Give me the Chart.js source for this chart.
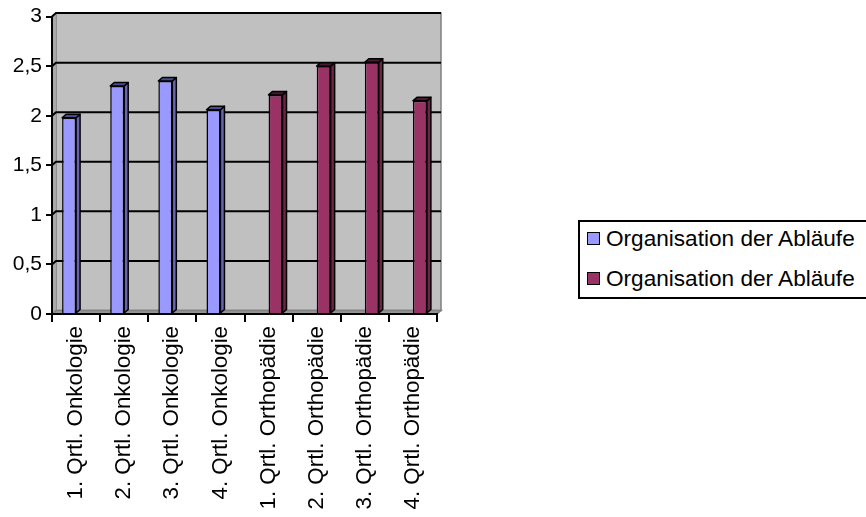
<!DOCTYPE html>
<html lang="de"><head>
  <meta charset="UTF-8">
  <title>Organisation der Abläufe</title>
  <script src="https://cdn.jsdelivr.net/npm/chart.js"></script>
  <style>
    html, body { margin: 0; padding: 0; background: #fff; overflow: hidden; }
    #wrap { position: relative; width: 866px; height: 517px; }
    #legend {
      position: absolute; left: 578px; top: 220px; width: 320px; height: 79px;
      border: 2px solid #000; box-sizing: border-box; background: #fff;
      font-family: 'Liberation Sans', Arial, sans-serif; font-size: 22.6px; color: #000;
    }
    .item { position: absolute; left: 7px; height: 22px; line-height: 22px; white-space: nowrap; }
    .swatch {
      display: inline-block; width: 11px; height: 11px; border: 1.5px solid #000;
      vertical-align: middle; margin-right: 6px; position: relative; top: -2px;
    }
  </style>
</head><body>
<div id="wrap">
  <canvas id="chart" width="866" height="517"></canvas>
  <div id="legend"></div>
</div>
<script>
  const categories = [
    '1. Qrtl. Onkologie', '2. Qrtl. Onkologie', '3. Qrtl. Onkologie', '4. Qrtl. Onkologie',
    '1. Qrtl. Orthopädie', '2. Qrtl. Orthopädie', '3. Qrtl. Orthopädie', '4. Qrtl. Orthopädie'
  ];
  const seriesNames = ['Organisation der Abläufe', 'Organisation der Abläufe'];
  const onkologie = [1.98, 2.30, 2.35, 2.06, null, null, null, null];
  const orthopaedie = [null, null, null, null, 2.21, 2.50, 2.54, 2.15];
  const yTickValues = [0, 0.5, 1, 1.5, 2, 2.5, 3];
  const yTickLabels = ['0', '0,5', '1', '1,5', '2', '2,5', '3'];

  const FONT = "'Liberation Sans', Arial, sans-serif";
  const colors = ['#9999ff', '#993366'];
  const depth = { dx: 4, dy: -3.5 };
  // darker shades for the top and side faces of the 3d bars
  const faces = [
    { top: '#4a4a8c', side: '#6565b0' },
    { top: '#4a1830', side: '#6e2448' }
  ];

  const plot3d = {
    id: 'plot3d',
    beforeDraw(chart) {
      const ctx = chart.ctx, ca = chart.chartArea, y = chart.scales.y;
      const dx = depth.dx, dy = depth.dy;
      ctx.save();
      // back wall
      ctx.fillStyle = '#c0c0c0';
      ctx.strokeStyle = '#808080';
      ctx.lineWidth = 1.5;
      ctx.fillRect(ca.left + dx, ca.top + dy, ca.right - ca.left, ca.bottom - ca.top);
      ctx.strokeRect(ca.left + dx, ca.top + dy, ca.right - ca.left, ca.bottom - ca.top);
      // left wall
      ctx.fillStyle = '#a8a8a8';
      ctx.beginPath();
      ctx.moveTo(ca.left, ca.top);
      ctx.lineTo(ca.left + dx, ca.top + dy);
      ctx.lineTo(ca.left + dx, ca.bottom + dy);
      ctx.lineTo(ca.left, ca.bottom);
      ctx.closePath();
      ctx.fill();
      // floor
      ctx.fillStyle = '#969696';
      ctx.beginPath();
      ctx.moveTo(ca.left, ca.bottom);
      ctx.lineTo(ca.left + dx, ca.bottom + dy);
      ctx.lineTo(ca.right + dx, ca.bottom + dy);
      ctx.lineTo(ca.right, ca.bottom);
      ctx.closePath();
      ctx.fill();
      ctx.stroke();
      // gridlines on the back wall
      ctx.strokeStyle = '#000';
      ctx.lineWidth = 2;
      yTickValues.forEach(v => {
        if (v === 0) return;
        const py = y.getPixelForValue(v);
        ctx.beginPath();
        ctx.moveTo(ca.left, py);
        ctx.lineTo(ca.left + dx, py + dy);
        ctx.lineTo(ca.right + dx, py + dy);
        ctx.stroke();
      });
      ctx.restore();
    },
    afterDatasetsDraw(chart) {
      const ctx = chart.ctx, dx = depth.dx, dy = depth.dy;
      ctx.save();
      ctx.strokeStyle = '#000';
      ctx.lineWidth = 1.5;
      ctx.lineJoin = 'round';
      chart.data.datasets.forEach((ds, di) => {
        const meta = chart.getDatasetMeta(di);
        meta.data.forEach((el, i) => {
          if (ds.data[i] == null) return;
          const l = el.x - el.width / 2, r = el.x + el.width / 2, t = el.y, b = el.base;
          // side face
          ctx.fillStyle = faces[di].side;
          ctx.beginPath();
          ctx.moveTo(r, t);
          ctx.lineTo(r + dx, t + dy);
          ctx.lineTo(r + dx, b + dy);
          ctx.lineTo(r, b);
          ctx.closePath();
          ctx.fill();
          ctx.stroke();
          // top face
          ctx.fillStyle = faces[di].top;
          ctx.beginPath();
          ctx.moveTo(l, t);
          ctx.lineTo(l + dx, t + dy);
          ctx.lineTo(r + dx, t + dy);
          ctx.lineTo(r, t);
          ctx.closePath();
          ctx.fill();
          ctx.stroke();
        });
      });
      ctx.restore();
    }
  };

  const ctx = document.getElementById('chart').getContext('2d');
  const chart = new Chart(ctx, {
    type: 'bar',
    data: {
      labels: categories,
      datasets: [
        {
          label: seriesNames[0],
          data: onkologie,
          backgroundColor: colors[0],
          borderColor: '#000',
          borderWidth: 1.5
        },
        {
          label: seriesNames[1],
          data: orthopaedie,
          backgroundColor: colors[1],
          borderColor: '#000',
          borderWidth: 1.5
        }
      ]
    },
    options: {
      responsive: false,
      animation: false,
      layout: { padding: { top: 15, left: 0, right: 429, bottom: 0 } },
      plugins: {
        tooltip: { enabled: false },
        legend: { display: false }
      },
      datasets: {
        bar: { categoryPercentage: 0.58, barPercentage: 1 }
      },
      scales: {
        x: {
          offset: true,
          grid: {
            offset: true,
            drawOnChartArea: false,
            color: '#000',
            lineWidth: 2,
            tickLength: 8
          },
          border: { color: '#000', width: 2 },
          ticks: {
            color: '#000',
            font: { family: FONT, size: 22.3 },
            minRotation: 90,
            maxRotation: 90,
            autoSkip: false,
            padding: 4
          },
          afterFit(s) { s.height = 203; }
        },
        y: {
          min: 0,
          max: 3,
          ticks: {
            stepSize: 0.5,
            color: '#000',
            font: { family: FONT, size: 21 },
            padding: 4,
            callback: (v) => {
              const i = yTickValues.indexOf(v);
              return i >= 0 ? yTickLabels[i] : String(v).replace('.', ',');
            }
          },
          grid: {
            drawOnChartArea: false,
            color: '#000',
            lineWidth: 2,
            tickLength: 6
          },
          border: { color: '#000', width: 2 },
          afterFit(s) { s.width = 52; }
        }
      }
    },
    plugins: [plot3d]
  });

  // legend box on the right, built from the same series names and colours
  const legend = document.getElementById('legend');
  chart.data.datasets.forEach((ds, i) => {
    const item = document.createElement('div');
    item.className = 'item';
    item.style.top = (6 + i * 40) + 'px';
    const sw = document.createElement('span');
    sw.className = 'swatch';
    sw.style.background = ds.backgroundColor;
    item.appendChild(sw);
    item.appendChild(document.createTextNode(ds.label));
    legend.appendChild(item);
  });
</script>
</body></html>
